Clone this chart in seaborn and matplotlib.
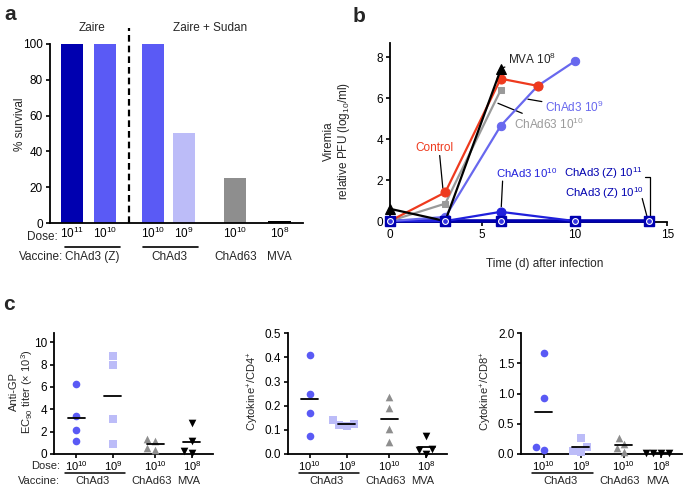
import numpy as np
import matplotlib
matplotlib.use('Agg')
import matplotlib.pyplot as plt
import seaborn as sns
from matplotlib.transforms import blended_transform_factory

# ---------------- panel a: survival
survival = [100, 100, 100, 50, 25, 1]
survival_doses = ['$10^{11}$', '$10^{10}$', '$10^{10}$', '$10^{9}$', '$10^{10}$', '$10^{8}$']
survival_vaccines = ['ChAd3 (Z)', 'ChAd3', 'ChAd63', 'MVA']

# ---------------- panel b: viremia (log10 PFU/ml)
days_control = [0, 3, 6, 8]
vir_control = [0, 1.4, 6.95, 6.6]
days_chad63 = [0, 3, 6]
vir_chad63 = [0, 0.85, 6.4]
days_mva = [0, 3, 6]
vir_mva = [0.6, 0, 7.4]
days_chad3_9 = [0, 3, 6, 8, 10]
vir_chad3_9 = [0, 0.2, 4.65, 6.6, 7.8]
days_chad3_10 = [0, 3, 6, 10]
vir_chad3_10 = [0, 0, 0.45, 0]
days_chad3z = [0, 3, 6, 10, 14]
vir_chad3z = [0, 0, 0, 0, 0]

# ---------------- panel c: immune responses
c_doses = ['$10^{10}$', '$10^{9}$', '$10^{10}$', '$10^{8}$']
c_vaccines = ['ChAd3', 'ChAd63', 'MVA']

titer_chad3_10 = [6.3, 3.4, 2.1, 1.2]
titer_chad3_9 = [8.8, 8.0, 3.1, 0.9]
titer_chad63 = [1.3, 1.2, 0.5, 0.4]
titer_mva = [2.8, 1.2, 0.3, 0.1]

cd4_chad3_10 = [0.41, 0.25, 0.17, 0.075]
cd4_chad3_9 = [0.14, 0.125, 0.12, 0.115]
cd4_chad63 = [0.235, 0.19, 0.105, 0.05]
cd4_mva = [0.075, 0.02, 0.015, 0.0]

cd8_chad3_10 = [1.68, 0.93, 0.11, 0.06]
cd8_chad3_9 = [0.27, 0.12, 0.05, 0.03]
cd8_chad63 = [0.27, 0.17, 0.1, 0.03]
cd8_mva = [0.01, 0.01, 0.01, 0.01]

# colours
DARK = '#0000b0'
MID = '#5a5af5'
LIGHT = '#bcbcf8'
GRAY = '#8e8e8e'
RED = '#ee3a1e'
BLUE = '#2020dc'

sns.set_style('ticks')
plt.rcParams['font.family'] = ['Liberation Sans', 'DejaVu Sans']
plt.rcParams['font.size'] = 8.5
plt.rcParams['axes.linewidth'] = 1.3
plt.rcParams['xtick.major.width'] = 1.2
plt.rcParams['ytick.major.width'] = 1.2
plt.rcParams['xtick.major.size'] = 3
plt.rcParams['ytick.major.size'] = 3
plt.rcParams['xtick.labelsize'] = 8.5
plt.rcParams['ytick.labelsize'] = 8.5
plt.rcParams['mathtext.default'] = 'regular'

fig = plt.figure(figsize=(6.85, 4.87), dpi=100)


def style(ax):
    sns.despine(ax=ax)
    ax.tick_params(colors='black', direction='out', pad=2)
    for s in ax.spines.values():
        s.set_color('black')


# =============== a
ax = fig.add_axes([0.073, 0.542, 0.369, 0.368])
bar_pos = [0, 1, 2.45, 3.4, 4.95, 6.3]
bar_colors = [DARK, MID, MID, LIGHT, GRAY, 'black']
ax.bar(bar_pos, survival, width=0.68, color=bar_colors, linewidth=0)
ax.set_xlim(-0.67, 7.0)
ax.set_ylim(0, 100)
ax.set_yticks([0, 20, 40, 60, 80, 100])
ax.set_xticks(bar_pos)
ax.set_xticklabels(survival_doses)
ax.tick_params(axis='x', length=0, pad=4)
style(ax)
ax.set_ylabel('% survival')
ax.yaxis.set_label_coords(-0.095, 0.55)
ax.plot([1.73, 1.73], [0, 109], ls=(0, (3, 1.8)), color='black', lw=1.6, clip_on=False)
ax.text(0.6, 109, 'Zaire', ha='center', va='center')
ax.text(4.2, 109, 'Zaire + Sudan', ha='center', va='center')
tr = blended_transform_factory(ax.transData, fig.transFigure)
fig.text(58 / 685, 1 - 237 / 487, 'Dose:', ha='right', va='center')
fig.text(63 / 685, 1 - 257 / 487, 'Vaccine:', ha='right', va='center')
vac_x = [0.6, 2.95, 4.95, 6.3]
for x, name in zip(vac_x, survival_vaccines):
    ax.text(x, 1 - 257 / 487, name, transform=tr, ha='center', va='center')
for x0, x1 in [(-0.2, 1.45), (2.15, 3.82)]:
    ax.plot([x0, x1], [1 - 247 / 487] * 2, transform=tr, color='black', lw=1.2, clip_on=False)

# =============== b
ax = fig.add_axes([0.569, 0.544, 0.405, 0.368])
sns.lineplot(x=days_chad3z, y=vir_chad3z, color=DARK, lw=2.6, ax=ax, clip_on=False, zorder=3)
sns.lineplot(x=days_chad3_10, y=vir_chad3_10, color=BLUE, lw=1.6, marker='o', ms=6.5,
             mec=BLUE, ax=ax, clip_on=False, zorder=4)
sns.lineplot(x=days_chad3_9, y=vir_chad3_9, color='#6868ee', lw=1.6, marker='o', ms=6,
             mec='#6868ee', ax=ax, clip_on=False, zorder=4)
sns.lineplot(x=days_chad63, y=vir_chad63, color='#9a9a9a', lw=1.6, marker='s', ms=5,
             mec='#9a9a9a', ax=ax, clip_on=False, zorder=5)
sns.lineplot(x=days_control, y=vir_control, color=RED, lw=1.6, marker='o', ms=6.5,
             mec=RED, ax=ax, clip_on=False, zorder=5)
sns.lineplot(x=days_mva, y=vir_mva, color='black', lw=1.6, marker='^', ms=6.5,
             mec='black', ax=ax, clip_on=False, zorder=6)
ax.plot(days_chad3z, vir_chad3z, ls='none', marker='s', ms=6.5, color=DARK,
        clip_on=False, zorder=7)
ax.plot(days_chad3z, vir_chad3z, ls='none', marker='o', ms=4.2, mfc='#3434e0', mec='white',
        mew=0.8, clip_on=False, zorder=8)
ax.set_xlim(0, 15)
ax.set_ylim(-0.05, 8.7)
ax.set_xticks([0, 5, 10, 15])
ax.set_yticks([0, 2, 4, 6, 8])
style(ax)
ax.set_xlabel('Time (d) after infection')
ax.xaxis.set_label_coords(0.56, -0.2)
ax.set_ylabel('Viremia\nrelative PFU (log$_{10}$/ml)', linespacing=1.1)
ax.yaxis.set_label_coords(-0.135, 0.45)

line = dict(arrowstyle='-', color='black', lw=0.9, shrinkA=0, shrinkB=0)
ax.annotate('MVA $10^{8}$', xy=(6.15, 7.5), xytext=(6.4, 7.9), va='center', ha='left',
            arrowprops=line)
ax.annotate('ChAd3 $10^{9}$', xy=(7.47, 5.95), xytext=(8.4, 5.56), va='center', ha='left',
            color='#6868ee', arrowprops=line)
ax.annotate('ChAd63 $10^{10}$', xy=(5.85, 5.75), xytext=(6.7, 4.73), va='center', ha='left',
            color='#9a9a9a', arrowprops=line)
ax.text(2.41, 3.56, 'Control', va='center', ha='center', color=RED)
ax.plot([2.7, 2.87], [3.2, 1.6], color='black', lw=0.9)
ax.text(5.75, 2.34, 'ChAd3 $10^{10}$', va='center', ha='left', color=BLUE, fontsize=8.2)
ax.plot([6.1, 6.03], [1.95, 0.7], color='black', lw=0.9)
ax.text(9.4, 2.34, 'ChAd3 (Z) $10^{11}$', va='center', ha='left', color=DARK, fontsize=8.2)
ax.text(9.45, 1.37, 'ChAd3 (Z) $10^{10}$', va='center', ha='left', color=DARK, fontsize=8.2)
ax.plot([13.8, 14.05, 14.05], [2.15, 2.15, 0.25], color='black', lw=0.9)
ax.plot([13.65, 13.9], [1.1, 0.25], color='black', lw=0.9)

# =============== c
group_pos = [0, 1, 2.15, 3.15]
markers = ['o', 's', '^', 'v']
c_colors = [MID, LIGHT, GRAY, 'black']
panels = [
    ([titer_chad3_10, titer_chad3_9, titer_chad63, titer_mva],
     [0.0788, 0.0678, 0.232, 0.248], (0, 10.8), [0, 2, 4, 6, 8, 10],
     'Anti-GP\nEC$_{90}$ titer (× 10$^{3}$)', -0.12),
    ([cd4_chad3_10, cd4_chad3_9, cd4_chad63, cd4_mva],
     [0.420, 0.0678, 0.233, 0.248], (0, 0.5), [0, 0.1, 0.2, 0.3, 0.4, 0.5],
     'Cytokine$^{+}$/CD4$^{+}$', -0.165),
    ([cd8_chad3_10, cd8_chad3_9, cd8_chad63, cd8_mva],
     [0.761, 0.0678, 0.235, 0.248], (0, 2.0), [0, 0.5, 1.0, 1.5, 2.0],
     'Cytokine$^{+}$/CD8$^{+}$', -0.17),
]
for i, (groups, rect, ylim, yticks, ylabel, lx) in enumerate(panels):
    ax = fig.add_axes(rect)
    for pos, vals, mk, col in zip(group_pos, groups, markers, c_colors):
        sns.swarmplot(x=[pos] * len(vals), y=vals, native_scale=True, orient='x',
                      marker=mk, color=col, size=5.5, linewidth=0, ax=ax, clip_on=False,
                      zorder=3)
        m = np.mean(vals)
        ax.plot([pos - 0.23, pos + 0.23], [m, m], color='black', lw=1.3, zorder=4)
    ax.set_xlim(-0.6, 3.72)
    ax.set_ylim(*ylim)
    ax.set_yticks(yticks)
    if i == 0:
        ax.set_yticklabels([str(t) for t in yticks])
    ax.set_xticks(group_pos)
    ax.set_xticklabels(c_doses, fontsize=8)
    style(ax)
    ax.tick_params(axis='x', pad=0.5)
    ax.set_ylabel(ylabel, linespacing=1.0, fontsize=8)
    ax.yaxis.set_label_coords(lx, 0.52)
    tr = blended_transform_factory(ax.transData, fig.transFigure)
    for x, name in zip([0.45, 2.05, 3.05], c_vaccines):
        ax.text(x, 1 - 481.5 / 487, name, transform=tr, ha='center', va='center', fontsize=8)
    ax.plot([-0.3, 1.32], [1 - 472.5 / 487] * 2, transform=tr, color='black', lw=1.1,
            clip_on=False)
    if i == 0:
        fig.text(60 / 685, 1 - 466 / 487, 'Dose:', ha='right', va='center', fontsize=8)
        fig.text(60 / 685, 1 - 481.5 / 487, 'Vaccine:', ha='right', va='center', fontsize=8)

fig.text(4 / 685, 1 - 15 / 487, 'a', fontsize=15, fontweight='bold', va='center')
fig.text(353 / 685, 1 - 16 / 487, 'b', fontsize=15, fontweight='bold', va='center')
fig.text(3 / 685, 1 - 304 / 487, 'c', fontsize=15, fontweight='bold', va='center')

fig.savefig('out.png', dpi=100)
